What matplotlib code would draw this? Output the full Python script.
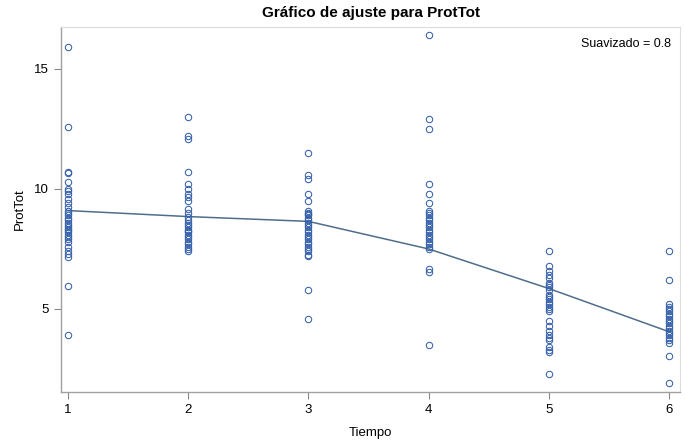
import matplotlib
matplotlib.use("Agg")
import matplotlib.pyplot as plt

plt.rcParams['font.family'] = ['Liberation Sans', 'DejaVu Sans']

t1 = [15.9, 12.6, 10.7, 10.65, 10.3, 10.0, 9.9, 9.8, 9.6, 9.4, 9.25, 9.1, 9.0, 8.9, 8.8, 8.7,
      8.6, 8.5, 8.4, 8.35, 8.3, 8.2, 8.1, 8.0, 7.9, 7.8, 7.6, 7.4, 7.3, 7.15, 5.95, 3.9]
t2 = [13.0, 12.2, 12.1, 10.7, 10.2, 10.0, 9.8, 9.65, 9.5, 9.15, 9.0, 8.85, 8.7, 8.6, 8.5,
      8.4, 8.3, 8.25, 8.2, 8.1, 8.0, 7.9, 7.8, 7.7, 7.6, 7.5, 7.4]
t3 = [11.5, 10.6, 10.4, 9.8, 9.5, 9.1, 9.0, 8.95, 8.9, 8.8, 8.7, 8.6, 8.5, 8.4, 8.3, 8.2,
      8.1, 8.0, 7.9, 7.8, 7.7, 7.6, 7.5, 7.4, 7.25, 7.2, 5.8, 4.6]
t4 = [16.4, 12.9, 12.5, 10.2, 9.8, 9.4, 9.1, 9.0, 8.9, 8.8, 8.7, 8.6, 8.5, 8.4, 8.3, 8.2,
      8.1, 8.0, 7.9, 7.8, 7.7, 7.6, 7.5, 6.65, 6.55, 3.5]
t5 = [7.4, 6.8, 6.6, 6.4, 6.3, 6.1, 6.0, 5.9, 5.8, 5.6, 5.5, 5.4, 5.3, 5.2, 5.1, 5.0, 4.9,
      4.5, 4.3, 4.1, 3.9, 3.8, 3.7, 3.4, 3.3, 3.2, 2.3]
t6 = [7.4, 6.2, 5.2, 5.1, 5.0, 4.9, 4.8, 4.7, 4.6, 4.5, 4.4, 4.3, 4.2, 4.1, 4.0, 3.9, 3.8,
      3.7, 3.6, 3.05, 1.9]
tiempos = [1, 2, 3, 4, 5, 6]
ajuste = [9.1, 8.85, 8.65, 7.5, 5.85, 4.05]

series = [t1, t2, t3, t4, t5, t6]

fig = plt.figure(figsize=(6.85, 4.41), dpi=100)
ax = fig.add_axes([61/685, (441-392)/441, (680-61)/685, (392-27)/441])

xs, ys = [], []
for t, vals in zip(tiempos, series):
    xs += [t]*len(vals)
    ys += vals
ax.plot(xs, ys, linestyle='none', marker='o', markersize=4.6, markerfacecolor='none',
        markeredgecolor='#3560aa', markeredgewidth=0.75, zorder=3)
ax.plot(tiempos, ajuste, color='#4f6d8c', linewidth=1.1, zorder=2)

ax.set_xlim(0.942, 6.09)
ax.set_ylim(1.54, 16.75)
ax.set_xticks(tiempos)
ax.set_yticks([5, 10, 15])
ax.tick_params(labelsize=9.5, color='#888888', length=5, width=0.8)
for s in ['left', 'bottom']:
    ax.spines[s].set_color('#a0a0a0')
    ax.spines[s].set_linewidth(1.0)
for s in ['top', 'right']:
    ax.spines[s].set_color('#dddddd')
    ax.spines[s].set_linewidth(0.8)

ax.set_xlabel('Tiempo', fontsize=9.5, labelpad=8)
ax.set_ylabel('ProtTot', fontsize=9.5, labelpad=6)
ax.set_title('Gráfico de ajuste para ProtTot', fontsize=11, fontweight='bold', pad=7)
ax.text(0.985, 0.97, 'Suavizado = 0.8', transform=ax.transAxes, ha='right', va='top', fontsize=9)

fig.savefig('out.png', dpi=100)
